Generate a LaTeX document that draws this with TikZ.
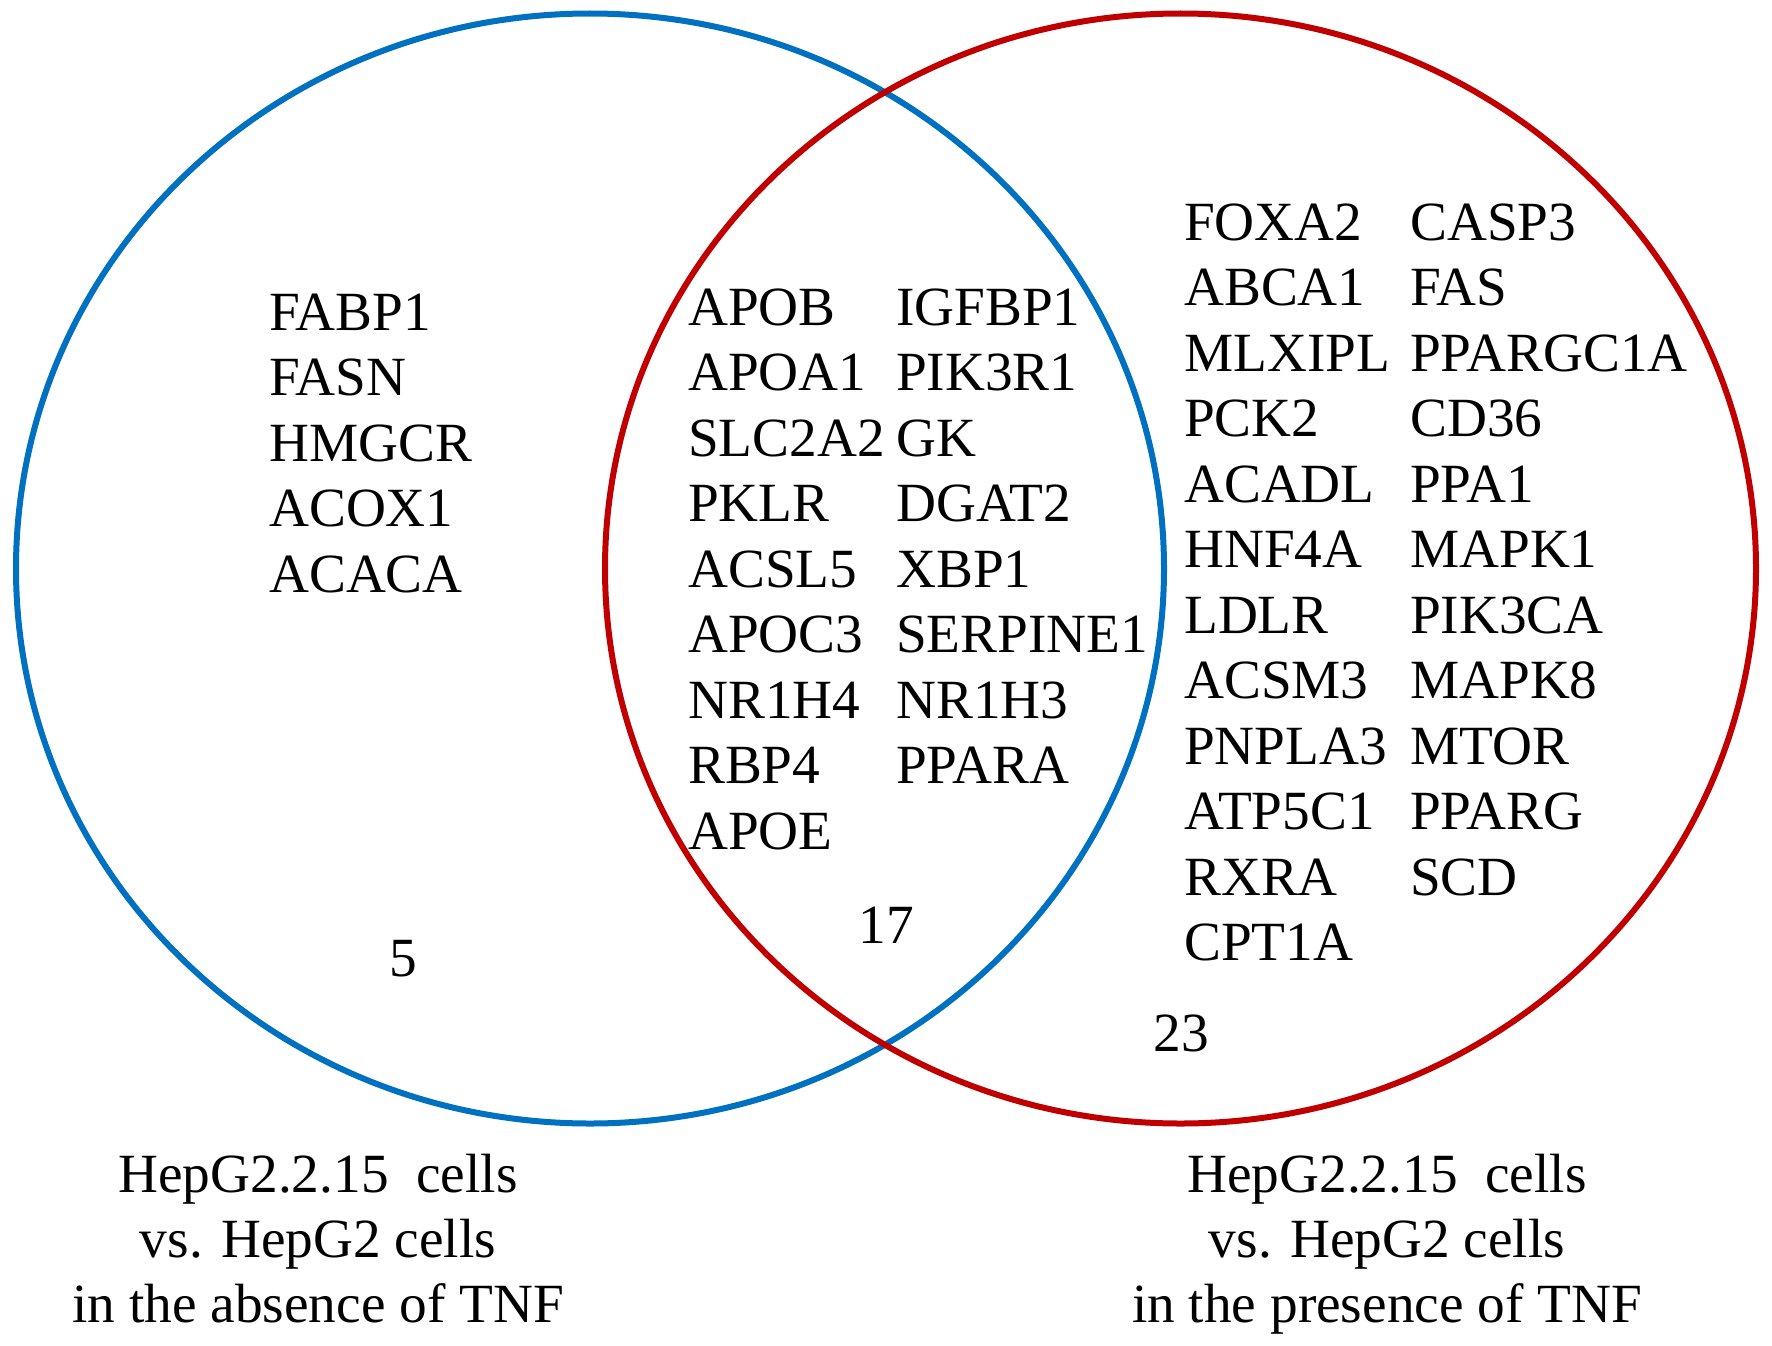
\documentclass[tikz,border=0pt]{standalone}
\usepackage{fontspec}
\setmainfont{Liberation Serif}
\definecolor{vblue}{HTML}{0070C0}
\definecolor{vred}{HTML}{C00000}
\begin{document}
\begin{tikzpicture}[x=1pt,y=-1pt,
  gene/.style={anchor=base west,inner sep=0pt,font=\fontsize{55.3}{65.5}\selectfont},
  num/.style={anchor=base,inner sep=0pt,font=\fontsize{55.3}{65.5}\selectfont},
  lab/.style={anchor=base,inner sep=0pt,font=\fontsize{55.3}{65.5}\selectfont},
  ring/.style={line width=6pt}]
\useasboundingbox (0,0) rectangle (1772,1346);
\fill[white] (0,0) rectangle (1772,1346);
\draw[ring,vblue] (590,568.5) ellipse [x radius=574, y radius=555];
\draw[ring,vred] (1180.5,568.5) ellipse [x radius=575.5, y radius=555];
% left only
\foreach \g [count=\i from 0] in {FABP1,FASN,HMGCR,ACOX1,ACACA}
  \node[gene] (l\i) at (269,330+65.5*\i) {\g};
% intersection
\foreach \g [count=\i from 0] in {APOB,APOA1,SLC2A2,PKLR,ACSL5,APOC3,NR1H4,RBP4,APOE}
  \node[gene] (ma\i) at (688,325+65.5*\i) {\g};
\foreach \g [count=\i from 0] in {IGFBP1,PIK3R1,GK,DGAT2,XBP1,SERPINE1,NR1H3,PPARA}
  \node[gene] (mb\i) at (896,325+65.5*\i) {\g};
% right only
\foreach \g [count=\i from 0] in {FOXA2,ABCA1,MLXIPL,PCK2,ACADL,HNF4A,LDLR,ACSM3,PNPLA3,ATP5C1,RXRA,CPT1A}
  \node[gene] (ra\i) at (1184,240+65.5*\i) {\g};
\foreach \g [count=\i from 0] in {CASP3,FAS,PPARGC1A,CD36,PPA1,MAPK1,PIK3CA,MAPK8,MTOR,PPARG,SCD}
  \node[gene] (rb\i) at (1410,240+65.5*\i) {\g};
% counts
\node[num] (n5) at (403,976) {5};
\node[num] (n17) at (886,943) {17};
\node[num] (n23) at (1181,1051) {23};
% captions
\node[lab] (la1) at (318,1192) {HepG2.2.15\ \ cells};
\node[lab] (la2) at (318,1257) {vs. HepG2 cells};
\node[lab] (la3) at (318,1322) {in the absence of TNF};
\node[lab] (lb1) at (1387,1192) {HepG2.2.15\ \ cells};
\node[lab] (lb2) at (1387,1257) {vs. HepG2 cells};
\node[lab] (lb3) at (1387,1322) {in the presence of TNF};
\end{tikzpicture}
\end{document}
